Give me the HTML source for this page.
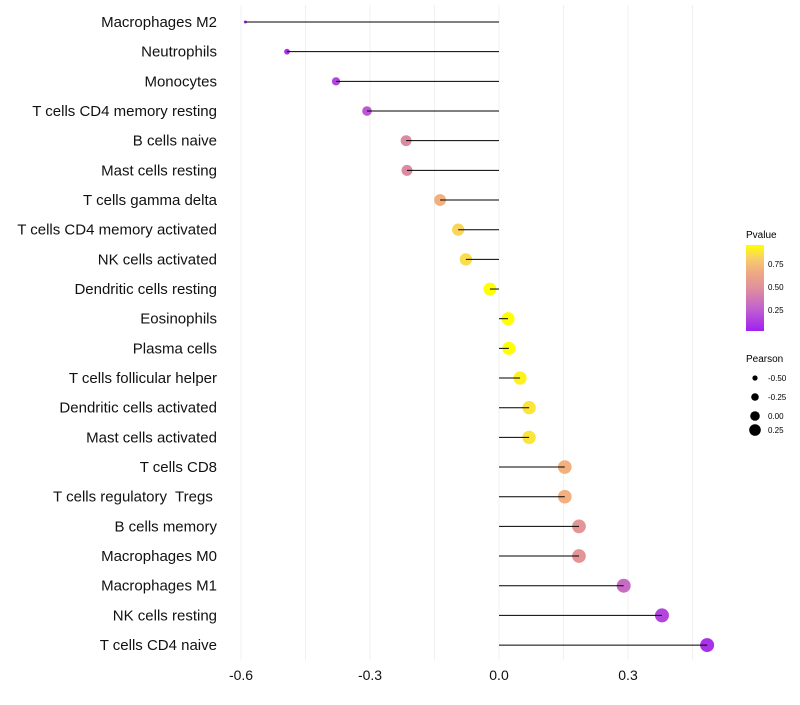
<!DOCTYPE html>
<html><head><meta charset="utf-8"><style>
body{margin:0;background:#fff;font-family:"Liberation Sans",sans-serif}
text{white-space:pre}
</style></head><body>
<svg id="chart" width="800" height="700" xmlns="http://www.w3.org/2000/svg">
<defs><linearGradient id="pg" x1="0" y1="1" x2="0" y2="0">
<stop offset="0" stop-color="#a020f0"/><stop offset="0.25" stop-color="#c060d0"/><stop offset="0.5" stop-color="#e0909c"/><stop offset="0.7" stop-color="#f0ac80"/><stop offset="0.85" stop-color="#f8d068"/><stop offset="1" stop-color="#ffff00"/></linearGradient></defs>
<g id="grid"></g><g id="marks"></g><g id="ylab"></g><g id="xlab"></g>
<g>
<text x="746" y="238" font-size="10">Pvalue</text>
<rect x="746" y="245" width="18" height="86" fill="url(#pg)"/>
<text x="768" y="267" font-size="8">0.75</text>
<text x="768" y="290" font-size="8">0.50</text>
<text x="768" y="313" font-size="8">0.25</text>
</g>
<g>
<text x="746" y="362" font-size="10">Pearson</text>
<circle cx="755" cy="378" r="2.6"/><text x="768" y="381" font-size="8">-0.50</text>
<circle cx="755" cy="397" r="3.8"/><text x="768" y="400" font-size="8">-0.25</text>
<circle cx="755" cy="416" r="4.8"/><text x="768" y="419" font-size="8">0.00</text>
<circle cx="755" cy="430" r="5.8"/><text x="768" y="433" font-size="8">0.25</text>
</g>
</svg>
<script>
const categories=["Macrophages M2","Neutrophils","Monocytes","T cells CD4 memory resting","B cells naive","Mast cells resting","T cells gamma delta","T cells CD4 memory activated","NK cells activated","Dendritic cells resting","Eosinophils","Plasma cells","T cells follicular helper","Dendritic cells activated","Mast cells activated","T cells CD8","T cells regulatory  Tregs ","B cells memory","Macrophages M0","Macrophages M1","NK cells resting","T cells CD4 naive"];
const pearson=[-0.59,-0.493,-0.379,-0.307,-0.216,-0.214,-0.137,-0.095,-0.077,-0.021,0.021,0.023,0.049,0.07,0.07,0.153,0.153,0.186,0.186,0.29,0.379,0.484];
const pvalue=[0.04,0.08,0.15,0.22,0.45,0.45,0.68,0.82,0.84,0.96,0.96,0.95,0.9,0.86,0.86,0.68,0.68,0.52,0.52,0.3,0.15,0.08];
const xticks=[-0.6,-0.3,0.0,0.3];
const xtickLabels=["-0.6","-0.3","0.0","0.3"];
const NS="http://www.w3.org/2000/svg";
const x=v=>499+v*430;
const y=i=>22+i*29.67;
const rad=p=>{const t=(0.484-p)/1.074;return Math.max(1.2,7-5.5*t*t*t);};
const stops=[[0,[160,32,240]],[0.25,[192,96,208]],[0.5,[224,144,156]],[0.7,[240,172,128]],[0.85,[248,208,104]],[1,[255,255,0]]];
function col(p){const t=Math.max(0,Math.min(1,(p-0.017)/(0.94-0.017)));
 for(let k=0;k<stops.length-1;k++){const [o1,c1]=stops[k],[o2,c2]=stops[k+1];
  if(t<=o2){const f=(t-o1)/(o2-o1);return`rgb(${c1.map((a,j)=>Math.round(a+(c2[j]-a)*f))})`;}}
 return "rgb(255,255,0)";}
function mk(tag,attrs,parent){const e=document.createElementNS(NS,tag);for(const k in attrs)e.setAttribute(k,attrs[k]);document.getElementById(parent).appendChild(e);return e;}
[-0.6,-0.45,-0.3,-0.15,0,0.15,0.3,0.45].forEach(v=>{const l=mk("line",{x1:x(v),x2:x(v),y1:5,y2:660,stroke:"#f0f0f0","stroke-width":1},"grid");

});
xticks.forEach((v,i)=>{const t=mk("text",{x:x(v),y:680,"font-size":14,"text-anchor":"middle",fill:"#111"},"xlab");t.textContent=xtickLabels[i];

});
categories.forEach((c,i)=>{
 const t=mk("text",{x:217,y:y(i)+5,"font-size":15,"text-anchor":"end",fill:"#111"},"ylab");t.textContent=c;
 
 
 const p=mk("circle",{cx:x(pearson[i]),cy:y(i),r:rad(pearson[i]),fill:col(pvalue[i])},"marks");
 
 
 const l=mk("line",{x1:x(0),x2:x(pearson[i]),y1:y(i),y2:y(i),stroke:"#000","stroke-width":1},"marks");
 
 
});
</script>
</body></html>
